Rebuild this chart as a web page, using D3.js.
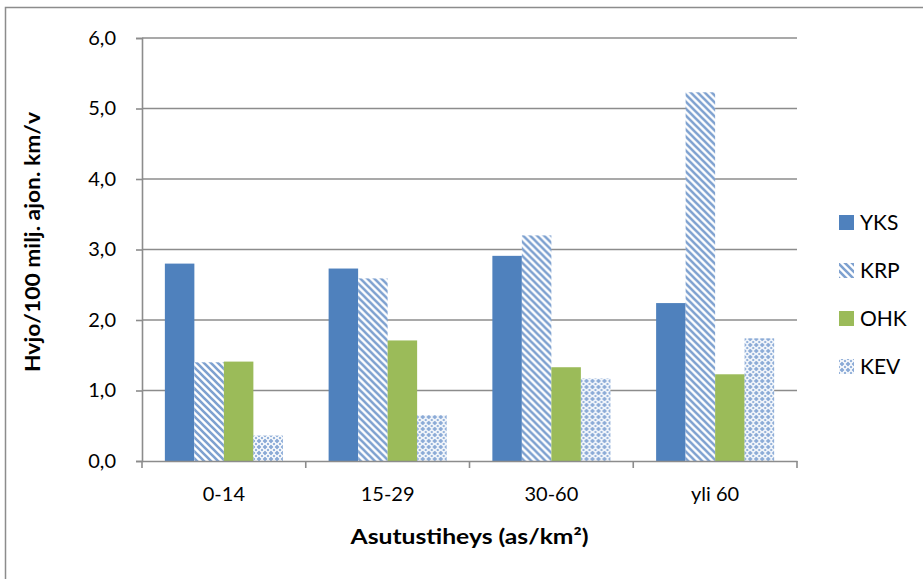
<!DOCTYPE html>
<html>
<head>
<meta charset="utf-8">
<script src="https://cdn.jsdelivr.net/npm/d3@7"></script>
<style>
  html, body { margin: 0; padding: 0; background: #fff; }
  svg { display: block; font-family: Lato, "Open Sans", sans-serif; }
</style>
</head>
<body>
<svg id="chart" width="923" height="579"></svg>
<script>
// Density classes (as/km²)
const categories = ["0-14", "15-29", "30-60", "yli 60"];
const seriesNames = ["YKS", "KRP", "OHK", "KEV"];
// Hvjo per 100 milj. ajon. km/v
const yksValues = [2.80, 2.73, 2.91, 2.24];
const krpValues = [1.40, 2.59, 3.20, 5.23];
const ohkValues = [1.41, 1.71, 1.33, 1.23];
const kevValues = [0.36, 0.65, 1.17, 1.74];
const yTicks = [0, 1, 2, 3, 4, 5, 6];

const seriesValues = [yksValues, krpValues, ohkValues, kevValues];
const rows = categories.map((c, i) => ({
  cat: c,
  vals: seriesNames.map((s, j) => ({ key: s, value: seriesValues[j][i] }))
}));

const svg = d3.select("#chart");
const W = 923, H = 579;
const plot = { left: 142, right: 797, top: 38, bottom: 461 };
const blue = "#4f81bd", green = "#9bbb59", grid = "#8c8c8c";

// Fill patterns
const defs = svg.append("defs");
const diag = defs.append("pattern")
  .attr("id", "pat-krp").attr("patternUnits", "userSpaceOnUse")
  .attr("width", 7).attr("height", 7);
diag.append("rect").attr("width", 7).attr("height", 7).attr("fill", "#fff");
diag.append("path")
  .attr("d", "M-2,-2 L9,9 M-9,-2 L2,9 M5,-2 L16,9")
  .attr("stroke", "#7ea1d0").attr("stroke-width", 2.6);

const grid2 = defs.append("pattern")
  .attr("id", "pat-kev").attr("patternUnits", "userSpaceOnUse")
  .attr("width", 6).attr("height", 6);
grid2.append("rect").attr("width", 6).attr("height", 6).attr("fill", "#fff");
grid2.append("path")
  .attr("d", "M3,0.5 L5.5,3 L3,5.5 L0.5,3 Z")
  .attr("fill", "#8aaad6");
grid2.append("path")
  .attr("d", "M0,0 L1.5,0 L0,1.5 Z M6,0 L4.5,0 L6,1.5 Z M0,6 L1.5,6 L0,4.5 Z M6,6 L4.5,6 L6,4.5 Z")
  .attr("fill", "#8aaad6");

const fills = { YKS: blue, KRP: "url(#pat-krp)", OHK: green, KEV: "url(#pat-kev)" };

// Outer chart frame
svg.append("rect")
  .attr("x", 5.5).attr("y", 7.5).attr("width", W + 10).attr("height", H + 10)
  .attr("fill", "none").attr("stroke", grid).attr("stroke-width", 1.5);

const y = d3.scaleLinear().domain([0, 6]).range([plot.bottom, plot.top]);
const x0 = d3.scaleBand().domain(categories).range([plot.left, plot.right]).padding(0);
const x1 = d3.scaleBand().domain(seriesNames).range([0, x0.bandwidth()])
  .paddingInner(0).paddingOuter(0.775);

// Horizontal gridlines
svg.append("g").selectAll("line")
  .data(yTicks.filter(t => t > 0))
  .join("line")
  .attr("x1", plot.left).attr("x2", plot.right)
  .attr("y1", d => y(d)).attr("y2", d => y(d))
  .attr("stroke", grid).attr("stroke-width", 1.6);

// Bars
svg.append("g").selectAll("g")
  .data(rows)
  .join("g")
  .attr("transform", d => `translate(${x0(d.cat)},0)`)
  .selectAll("rect")
  .data(d => d.vals)
  .join("rect")
  .attr("x", d => x1(d.key))
  .attr("width", x1.bandwidth())
  .attr("y", d => y(d.value))
  .attr("height", d => y(0) - y(d.value))
  .attr("fill", d => fills[d.key]);

const fmt = v => d3.format(".1f")(v).replace(".", ",");

// Y axis
const yAxis = svg.append("g")
  .attr("transform", `translate(${plot.left},0)`)
  .call(d3.axisLeft(y).tickValues(yTicks).tickFormat(fmt).tickSizeOuter(0).tickSize(6).tickPadding(20));
yAxis.select(".domain").attr("stroke", grid).attr("stroke-width", 1.6);
yAxis.selectAll(".tick line").attr("stroke", grid).attr("stroke-width", 1.6);
yAxis.selectAll(".tick text")
  .attr("font-size", 20).attr("fill", "#000").attr("font-family", "Lato, sans-serif");

// X axis
const xAxis = svg.append("g")
  .attr("transform", `translate(0,${plot.bottom})`)
  .call(d3.axisBottom(x0).tickSize(0).tickPadding(26));
xAxis.select(".domain").attr("stroke", grid).attr("stroke-width", 1.6);
xAxis.selectAll(".tick text")
  .attr("font-size", 20).attr("fill", "#000").attr("font-family", "Lato, sans-serif");
// Category boundary ticks
xAxis.append("g").selectAll("line")
  .data(categories.map(c => x0(c)).concat([plot.right]))
  .join("line")
  .attr("x1", d => d).attr("x2", d => d)
  .attr("y1", 0).attr("y2", 7)
  .attr("stroke", grid).attr("stroke-width", 1.6);

// Axis titles
svg.append("text")
  .attr("x", (plot.left + plot.right) / 2).attr("y", 544)
  .attr("text-anchor", "middle").attr("font-size", 21).attr("font-weight", "bold")
  .attr("textLength", 238).attr("lengthAdjust", "spacingAndGlyphs")
  .text("Asutustiheys (as/km²)");

svg.append("text")
  .attr("transform", `translate(40,242) rotate(-90)`)
  .attr("text-anchor", "middle").attr("font-size", 21).attr("font-weight", "bold")
  .attr("textLength", 260).attr("lengthAdjust", "spacingAndGlyphs")
  .text("Hvjo/100 milj. ajon. km/v");

// Legend
const legend = svg.append("g").selectAll("g")
  .data(seriesNames)
  .join("g")
  .attr("transform", (d, i) => `translate(839,${223 + i * 48})`);
legend.append("rect")
  .attr("x", 0).attr("y", -8).attr("width", 15).attr("height", 15)
  .attr("fill", d => fills[d]);
legend.append("text")
  .attr("x", 21).attr("y", 0).attr("dy", "0.35em")
  .attr("font-size", 21).attr("fill", "#000")
  .text(d => d);
</script>
</body>
</html>
